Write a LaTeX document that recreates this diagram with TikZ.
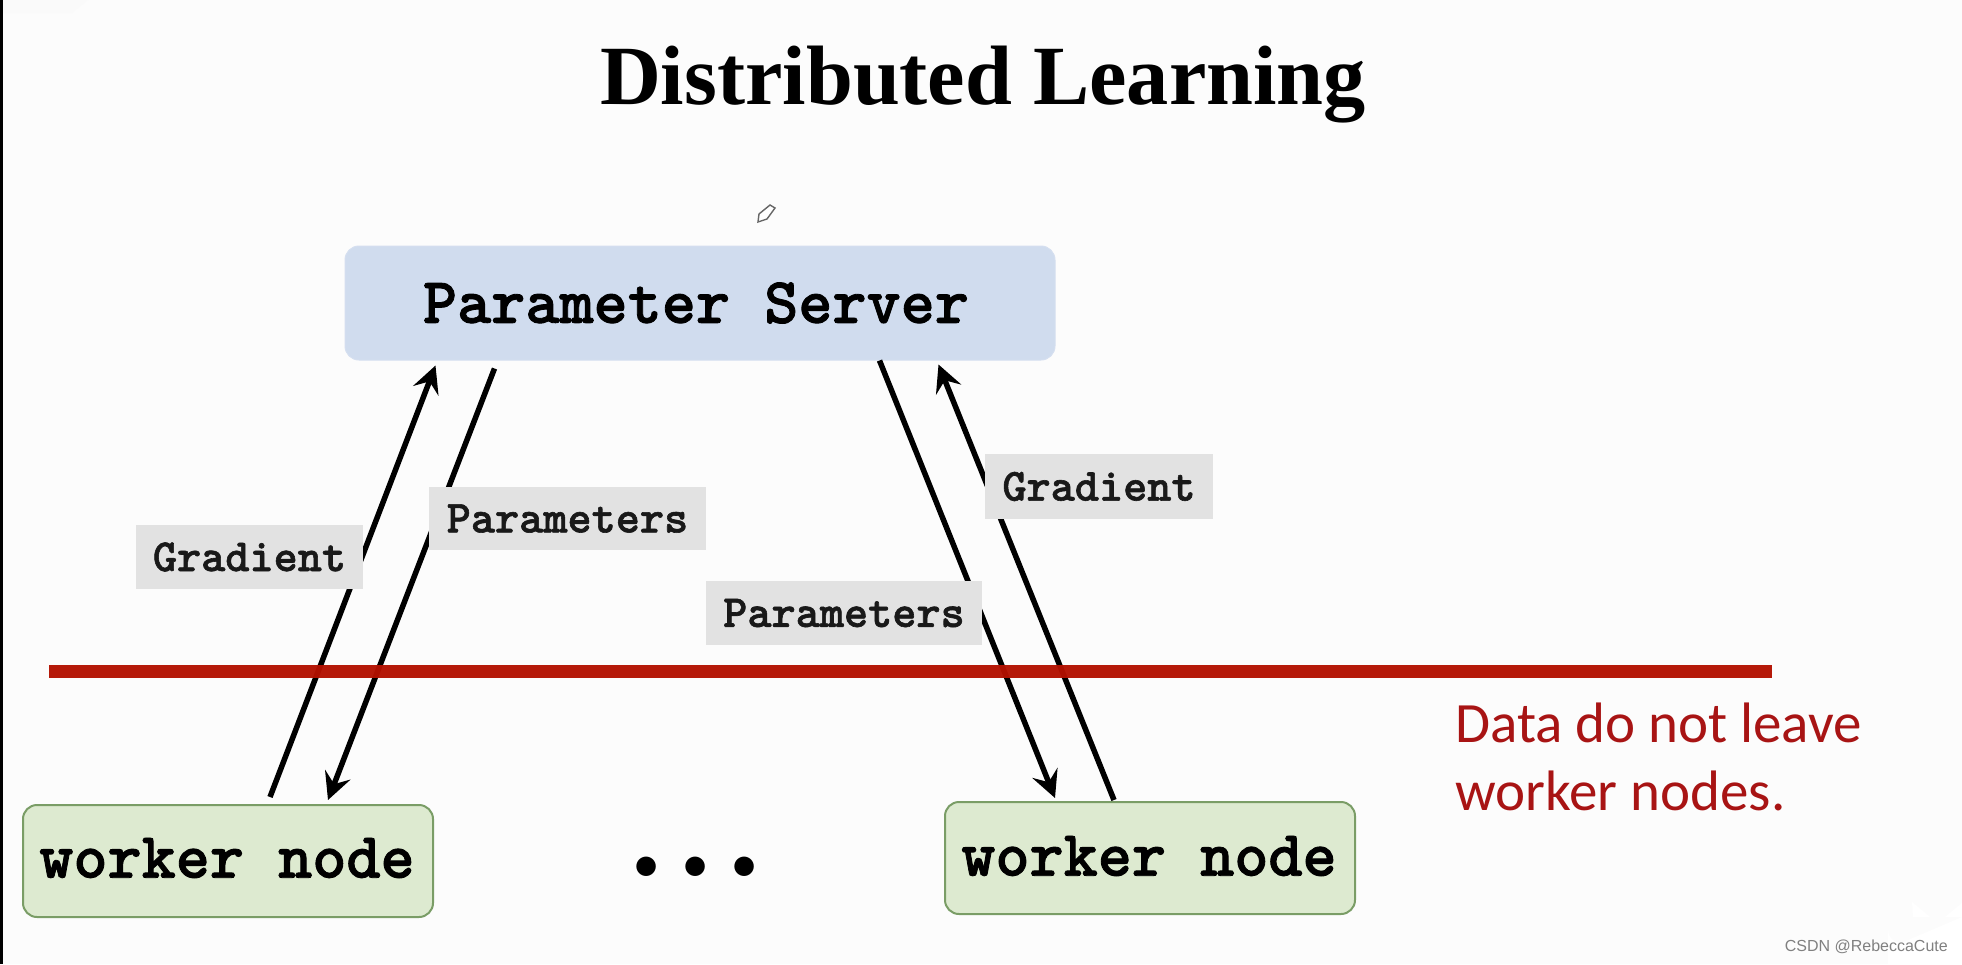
\documentclass[tikz,border=0pt]{standalone}
\usepackage{fontspec}
\usetikzlibrary{arrows.meta,calc}
\setsansfont{Carlito}
\setmainfont{Liberation Serif}
\setmonofont[Extension=.otf,BoldFont=lmmonolt10-bold,BoldFeatures={FakeBold=1.3}]{lmmono10-regular}
\newfontfamily\wmfont{Liberation Sans}
\newfontfamily\dotfont{Latin Modern Roman}
\definecolor{bgc}{HTML}{FCFCFC}
\definecolor{serverc}{HTML}{D0DCEE}
\definecolor{workerc}{HTML}{DDEAD0}
\definecolor{workerb}{HTML}{7A9D66}
\definecolor{labelc}{HTML}{E2E2E2}
\definecolor{redc}{HTML}{B31000}
\definecolor{redt}{HTML}{A81414}
\tikzset{
  x=1pt,y=-1pt,
  boxbase/.style={rounded corners=14pt,inner sep=0pt,text=black},
  boxtext/.style={inner sep=0pt,font=\ttfamily\bfseries\fontsize{65}{65}\selectfont,text=black},
  serverbox/.style={boxbase,fill=serverc,draw=serverc!90!white,line width=1pt,minimum width=710pt,minimum height=114pt},
  workerbox/.style={boxbase,fill=workerc,draw=workerb,line width=2pt,minimum width=410pt,minimum height=112pt},
  taglabel/.style={fill=labelc,inner sep=0pt,font=\ttfamily\bfseries\fontsize{46}{46}\selectfont,text=black!90},
  flow/.style={draw=black,line width=5.5pt,-{Stealth[length=27pt,width=27pt,inset=10pt]}},
}
\begin{document}
\begin{tikzpicture}
\useasboundingbox (0,0) rectangle (1962,964);
\fill[bgc] (0,0) rectangle (1962,964);
\fill[black] (0,0) rectangle (3,964);
\fill[white!96!gray] (3,0) -- (88,0) -- (72,13) -- (3,13) -- cycle;
\node[font=\bfseries\fontsize{84.3}{84.3}\selectfont,inner sep=0pt,anchor=base] (title) at (983,104) {Distributed Learning};
\draw[black!60,line width=1.4pt,fill=white] (758,222) -- (759,214) -- (770,205) -- (775,208) -- (767,219) -- cycle;
\node[serverbox] (server) at (700,303) {};
\node[boxtext] (servert) at (696,303) {Parameter Server};
\node[workerbox] (w1) at (228,861) {};
\node[boxtext] (w1t) at (227,858) {worker node};
\node[workerbox] (w2) at (1150,858) {};
\node[boxtext] (w2t) at (1149,856) {worker node};
\draw[flow] ([xshift=-164pt,yshift=7pt]w1.north east) coordinate (a1s) -- ([xshift=91pt,yshift=-5pt]server.south west);
\draw[flow] ([xshift=150pt,yshift=-8pt]server.south west) -- ([xshift=100pt,yshift=4pt]w1.north);
\draw[flow] ([xshift=535pt,yshift=0pt]server.south west) -- ([xshift=-95pt,yshift=3pt]w2.north);
\draw[flow] ([xshift=-36pt,yshift=1pt]w2.north) -- ([xshift=-117pt,yshift=-4pt]server.south east);
\draw[redc,opacity=.96,line width=13pt] (49,671.5) coordinate (rl) -- (1772,671.5) coordinate (rr);
\node[taglabel,minimum width=227pt,minimum height=64pt] (g1) at (249.5,557) {Gradient};
\node[taglabel,minimum width=277pt,minimum height=63pt] (p1) at (567.5,518.5) {Parameters};
\node[taglabel,minimum width=276pt,minimum height=64pt] (p2) at (844,613) {Parameters};
\node[taglabel,minimum width=228pt,minimum height=65pt] (g2) at (1099,486.5) {Gradient};
\node[font=\dotfont\bfseries\fontsize{135}{135}\selectfont,inner sep=0pt,anchor=base] (dots) at (696,876) {\makebox[49pt]{.}\makebox[49pt]{.}\makebox[49pt]{.}};
\node[font=\sffamily\fontsize{57}{68}\selectfont,text=redt,align=left,anchor=north west,inner sep=0pt] (note) at (1455,703) {Data do not leave\\worker nodes.};
\fill[white] (1888,964) -- (1888,930) arc[start angle=180,end angle=90,radius=13] -- (1962,917) -- (1962,964) -- cycle;
\fill[white] (1913,917) -- (1912,902) -- (1930,917) -- cycle;
\fill[white] (1945,917) -- (1962,903) -- (1962,917) -- cycle;
\node[font=\wmfont\fontsize{16}{16}\selectfont,text=black!50,inner sep=0pt,anchor=east] (wm) at (1948,947) {CSDN @RebeccaCute};
\end{tikzpicture}
\end{document}
